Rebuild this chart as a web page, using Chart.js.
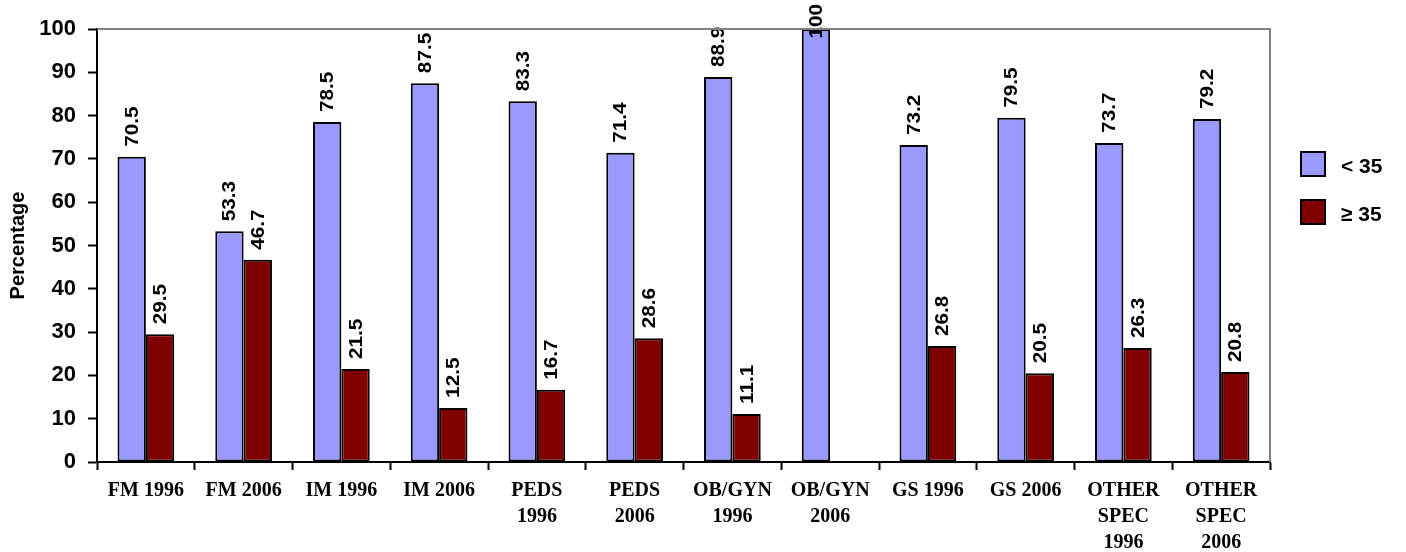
<!DOCTYPE html>
<html>
<head>
<meta charset="utf-8">
<script src="https://cdn.jsdelivr.net/npm/chart.js@4"></script>
<style>
    html, body { margin: 0; padding: 0; background: #fff; }
    #wrap { width: 1406px; height: 552px; }
</style>
</head>
<body>
<div id="wrap"><canvas id="barChart" width="1406" height="552"></canvas></div>
<script>
// Chart data
const categories = [
    'FM 1996', 'FM 2006', 'IM 1996', 'IM 2006', ['PEDS', '1996'], ['PEDS', '2006'],
    ['OB/GYN', '1996'], ['OB/GYN', '2006'], 'GS 1996', 'GS 2006',
    ['OTHER', 'SPEC', '1996'], ['OTHER', 'SPEC', '2006']
];
const under35 = [70.5, 53.3, 78.5, 87.5, 83.3, 71.4, 88.9, 100, 73.2, 79.5, 73.7, 79.2];
const over35 = [29.5, 46.7, 21.5, 12.5, 16.7, 28.6, 11.1, null, 26.8, 20.5, 26.3, 20.8];
const yTicks = [0, 10, 20, 30, 40, 50, 60, 70, 80, 90, 100];
const seriesNames = ['< 35', '\u2265 35'];

const colors = ['#9999FF', '#800000'];
const sansFamily = '"Liberation Sans", Arial, sans-serif';

// Rotated value labels above each bar (slightly stretched along the baseline like the original)
const valueLabels = {
    id: 'valueLabels',
    afterDatasetsDraw(chart) {
        const ctx = chart.ctx;
        const stretch = 1.15;
        ctx.save();
        ctx.font = 'bold 18px ' + sansFamily;
        ctx.fillStyle = '#000';
        ctx.textAlign = 'left';
        ctx.textBaseline = 'middle';
        chart.data.datasets.forEach((ds, i) => {
            const meta = chart.getDatasetMeta(i);
            meta.data.forEach((bar, j) => {
                const v = ds.data[j];
                if (v === null) return;
                const txt = String(v);
                const w = ctx.measureText(txt).width * stretch;
                let start = bar.y - 10;
                if (start - w < 4) start = 4 + w;
                ctx.save();
                ctx.translate(bar.x + 1, start);
                ctx.rotate(-Math.PI / 2);
                ctx.scale(stretch, 1);
                ctx.fillText(txt, 0, 0);
                ctx.restore();
            });
        });
        ctx.restore();
    }
};

// Gray frame on top and right, plus legend on the right side
const frameAndLegend = {
    id: 'frameAndLegend',
    afterDraw(chart) {
        const ctx = chart.ctx;
        const a = chart.chartArea;
        ctx.save();
        ctx.strokeStyle = '#808080';
        ctx.lineWidth = 2;
        ctx.beginPath();
        ctx.moveTo(a.left, a.top);
        ctx.lineTo(a.right, a.top);
        ctx.lineTo(a.right, a.bottom);
        ctx.stroke();

        // legend
        const boxX = 1301, boxY = [152, 200], size = 24;
        ctx.font = 'bold 21px ' + sansFamily;
        ctx.textBaseline = 'middle';
        ctx.textAlign = 'left';
        seriesNames.forEach((name, i) => {
            ctx.fillStyle = colors[i];
            ctx.fillRect(boxX, boxY[i], size, size);
            ctx.strokeStyle = '#000';
            ctx.lineWidth = 2;
            ctx.strokeRect(boxX, boxY[i], size, size);
            ctx.fillStyle = '#000';
            ctx.fillText(name, 1341, boxY[i] + size / 2 + 3);
        });
        ctx.restore();
    }
};

new Chart(document.getElementById('barChart'), {
    type: 'bar',
    data: {
        labels: categories,
        datasets: [{
            label: seriesNames[0],
            data: under35,
            backgroundColor: colors[0],
            borderColor: '#000',
            borderWidth: 2,
            borderSkipped: false,
            categoryPercentage: 0.58,
            barPercentage: 1.0
        }, {
            label: seriesNames[1],
            data: over35,
            backgroundColor: colors[1],
            borderColor: '#000',
            borderWidth: 2,
            borderSkipped: false,
            categoryPercentage: 0.58,
            barPercentage: 1.0
        }]
    },
    options: {
        responsive: false,
        animation: false,
        layout: { padding: { top: 29, right: 136, left: 0, bottom: 0 } },
        plugins: {
            legend: { display: false },
            tooltip: { enabled: false }
        },
        scales: {
            x: {
                afterFit(scale) { scale.height = 90; },
                grid: {
                    offset: true,
                    drawOnChartArea: false,
                    drawTicks: true,
                    tickLength: 8,
                    tickColor: '#000',
                    tickWidth: 2
                },
                border: { color: '#000', width: 2 },
                ticks: {
                    color: '#000',
                    maxRotation: 0,
                    autoSkip: false,
                    padding: 8,
                    font: { family: '"Liberation Serif", "Times New Roman", serif', size: 20, weight: 'bold', lineHeight: 1.3 }
                }
            },
            y: {
                min: 0,
                max: 100,
                afterFit(scale) { scale.width = 97; },
                afterBuildTicks(scale) { scale.ticks = yTicks.map(v => ({ value: v })); },
                grid: {
                    drawOnChartArea: false,
                    drawTicks: true,
                    tickLength: 9,
                    tickColor: '#000',
                    tickWidth: 2
                },
                border: { color: '#000', width: 2 },
                ticks: {
                    color: '#000',
                    padding: 12,
                    font: { family: sansFamily, size: 22, weight: 'bold' }
                },
                title: {
                    display: true,
                    text: 'Percentage',
                    color: '#000',
                    padding: { top: 6, bottom: 0 },
                    font: { family: sansFamily, size: 20, weight: 'bold' }
                }
            }
        }
    },
    plugins: [valueLabels, frameAndLegend]
});
</script>
</body>
</html>
